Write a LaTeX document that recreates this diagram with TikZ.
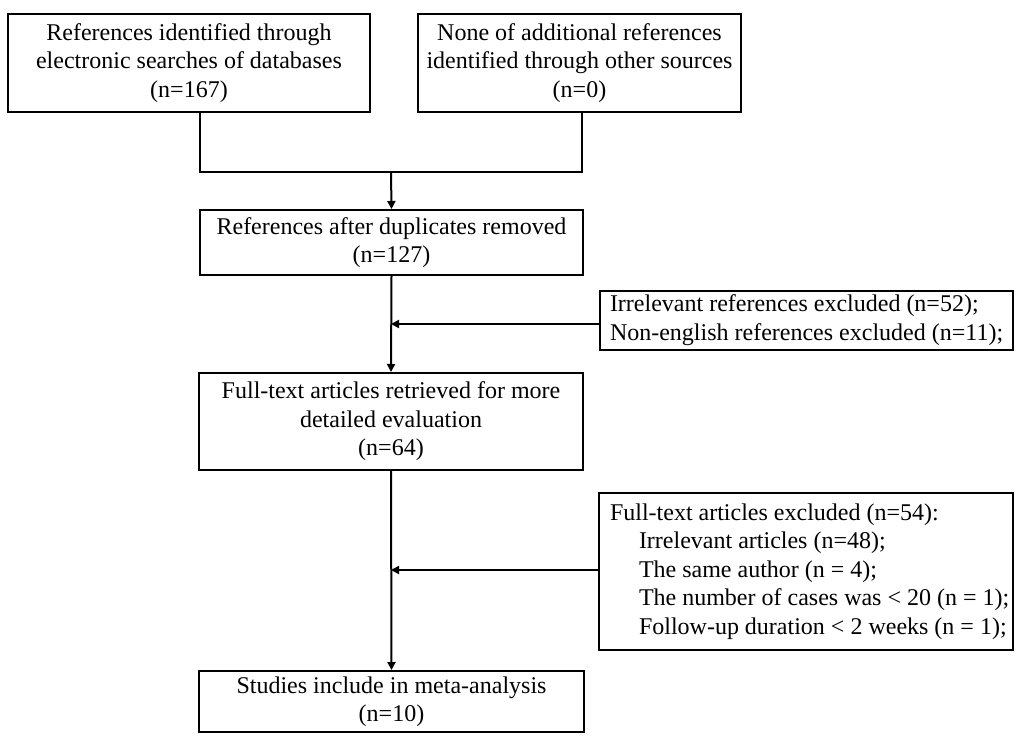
\documentclass[tikz,border=0pt]{standalone}
\usepackage{fontspec}
\setmainfont{Liberation Serif}
\usetikzlibrary{arrows.meta}
\newcommand{\leftblock}[2]{\makebox[#1][l]{\begin{tabular}{@{}l@{}}#2\end{tabular}}}
\begin{document}
\begin{tikzpicture}[x=1pt,y=-1pt,
  box/.style={draw, line width=2pt, inner sep=0pt, align=center,
    font=\fontsize{24}{28.5}\selectfont},
  ln/.style={line width=2pt},
  arr/.style={ln, -{Triangle[length=8pt,width=8pt]}}]
\useasboundingbox (0,0) rectangle (1020,736);
\node[box, minimum width=362pt, minimum height=98pt] (b1) at (189,63)
  {References identified through\\electronic searches of databases\\(n=167)};
\node[box, minimum width=323pt, minimum height=98pt] (b2) at (579.5,63)
  {None of additional references\\identified through other sources\\(n=0)};
\node[box, minimum width=383pt, minimum height=65pt] (b3) at (391.5,242.5)
  {References after duplicates removed\\(n=127)};
\node[box, minimum width=413pt, minimum height=59pt, anchor=west] (r1) at (599,320.5)
  {\leftblock{413pt}{\hspace*{10pt}Irrelevant references excluded (n=52);\\
   \hspace*{10pt}Non-english references excluded (n=11);}};
\node[box, minimum width=384pt, minimum height=97pt] (b4) at (391,421.5)
  {Full-text articles retrieved for more\\detailed evaluation\\(n=64)};
\node[box, minimum width=414pt, minimum height=157pt, anchor=west] (r2) at (598,571.5)
  {\leftblock{414pt}{\hspace*{11pt}Full-text articles excluded (n=54):\\
   \hspace*{40pt}Irrelevant articles (n=48);\\
   \hspace*{40pt}The same author (n = 4);\\
   \hspace*{40pt}The number of cases was < 20 (n = 1);\\
   \hspace*{40pt}Follow-up duration < 2 weeks (n = 1);}};
\node[box, minimum width=385pt, minimum height=61pt] (b5) at (391.5,701.5)
  {Studies include in meta-analysis\\(n=10)};
\coordinate (ml) at (200,172);
\coordinate (mr) at (582,172);
\coordinate (m) at (391,172);
\coordinate (j1) at (391,324);
\coordinate (j2) at (391,570);
\draw[ln] (b1.south -| ml) -- (ml) -- (mr) -- (b2.south -| mr);
\draw[arr] (m) -- (b3.north);
\draw[arr] (b3.south) -- (b4.north);
\draw[arr] (r1.west |- j1) -- (j1);
\draw[arr] (b4.south) -- (b5.north);
\draw[arr] (r2.west |- j2) -- (j2);
\end{tikzpicture}
\end{document}
